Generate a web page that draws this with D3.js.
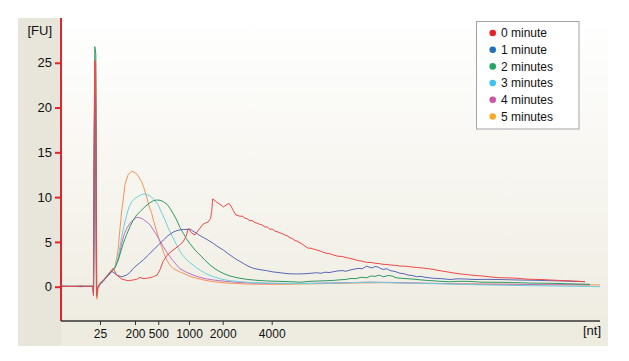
<!DOCTYPE html>
<html><head><meta charset="utf-8">
<script src="https://cdn.jsdelivr.net/npm/d3@7"></script>
<style>
html,body{margin:0;padding:0;background:#fff;}
svg{display:block;font-family:"Liberation Sans",Arial,Helvetica,sans-serif;}
</style></head>
<body>
<svg id="chart" width="629" height="361"></svg>
<script>
// Migration time (s) -> fluorescence units (FU)
const seriesNames = ["0 minute","1 minute","2 minutes","3 minutes","4 minutes","5 minutes"];
const ladderTimes = [22.9, 26.4, 28.73, 31.8, 35.17, 40.07];
const ladderLabels = ["25","200","500","1000","2000","4000"];
const yTicks = [0,5,10,15,20,25];

const min0 = [[19.0,0.05],[20.0,0.02],[21.0,0.08],[21.9,0.03],[22.2,0.05],[22.25,-1.0],[22.36,25.3],[22.46,25.0],[22.55,-1.1],[22.65,-0.2],[22.9,0.4],[23.2,0.7],[23.5,1.1],[23.8,1.5],[24.23,2.05],[24.57,1.3],[25.07,0.86],[25.4,0.75],[25.73,0.67],[26.2,0.75],[26.57,0.82],[26.9,1.05],[27.2,0.9],[27.57,0.94],[27.9,1.0],[28.23,1.12],[28.6,1.3],[28.9,1.9],[29.2,2.8],[29.6,3.5],[30.1,4.0],[30.7,4.5],[31.2,5.0],[31.5,5.6],[31.73,6.5],[32.05,6.0],[32.4,5.77],[32.73,6.3],[33.23,7.0],[33.73,7.25],[33.95,7.6],[34.07,8.4],[34.17,9.8],[34.4,9.6],[34.6,9.4],[34.9,9.2],[35.23,8.9],[35.5,9.1],[35.8,9.3],[36.0,9.0],[36.23,8.5],[36.5,8.0],[36.7,7.95],[36.9,7.85],[37.1,7.9],[37.4,7.65],[37.6,7.6],[37.9,7.35],[38.1,7.4],[38.4,7.15],[38.6,7.1],[38.9,6.95],[39.1,6.9],[39.4,6.65],[39.6,6.7],[39.9,6.4],[40.1,6.45],[40.4,6.2],[40.6,6.15],[40.9,6.0],[41.1,5.95],[41.4,5.75],[41.6,5.7],[41.9,5.45],[42.1,5.4],[42.4,5.15],[42.6,5.1],[42.9,4.9],[43.2,4.7],[43.5,4.45],[43.7,4.3],[44.0,4.3],[44.3,4.18],[44.57,4.1],[44.9,4.0],[45.2,3.85],[45.57,3.72],[45.9,3.68],[46.3,3.52],[46.7,3.4],[47.1,3.38],[47.5,3.25],[47.9,3.17],[48.3,3.05],[48.7,2.92],[49.1,2.85],[49.57,2.72],[50.0,2.7],[50.4,2.62],[50.8,2.58],[51.2,2.5],[51.6,2.48],[52.1,2.4],[52.5,2.38],[52.9,2.3],[53.3,2.3],[53.7,2.25],[54.1,2.2],[54.57,2.15],[55.0,2.1],[55.4,2.05],[55.8,2.0],[56.2,1.94],[56.7,1.82],[57.1,1.75],[57.5,1.68],[57.9,1.6],[58.7,1.45],[59.6,1.35],[60.4,1.25],[61.2,1.19],[62.0,1.08],[62.9,1.0],[63.8,0.98],[64.6,0.94],[65.4,0.86],[66.2,0.82],[67.0,0.8],[67.9,0.75],[68.8,0.7],[69.6,0.67],[70.5,0.62],[71.4,0.56]];

const min1 = [[19.0,0.03],[20.0,0.05],[21.0,0.0],[21.9,0.06],[22.2,0.04],[22.25,-0.9],[22.36,21.5],[22.46,21.2],[22.55,-1.0],[22.65,-0.1],[22.9,0.3],[23.2,0.6],[23.5,1.0],[23.8,1.35],[24.1,1.7],[24.3,1.55],[24.57,1.3],[25.07,1.1],[25.57,1.3],[25.9,1.6],[26.23,2.05],[26.7,2.5],[27.23,3.0],[27.7,3.5],[28.23,4.1],[28.7,4.6],[29.23,5.2],[29.7,5.7],[30.23,6.1],[30.7,6.3],[31.23,6.4],[31.6,6.38],[31.9,6.44],[32.2,6.2],[32.57,5.96],[32.9,5.7],[33.23,5.5],[33.7,5.2],[34.23,4.84],[34.7,4.45],[35.23,4.1],[35.7,3.7],[36.23,3.28],[36.7,2.95],[37.23,2.6],[37.7,2.3],[38.23,2.05],[38.9,1.9],[39.57,1.79],[40.2,1.65],[40.9,1.56],[41.7,1.45],[42.57,1.42],[43.4,1.45],[44.0,1.5],[44.57,1.56],[45.0,1.5],[45.4,1.62],[45.8,1.58],[46.23,1.67],[46.6,1.75],[47.1,1.8],[47.5,1.72],[47.9,1.86],[48.3,1.95],[48.7,2.05],[49.1,2.0],[49.57,2.3],[49.9,2.15],[50.1,2.1],[50.4,2.25],[50.7,2.2],[51.0,2.0],[51.23,1.94],[51.6,2.0],[51.9,1.8],[52.4,1.7],[52.9,1.5],[53.3,1.45],[53.7,1.3],[54.1,1.25],[54.57,1.12],[55.0,1.15],[55.4,1.05],[56.23,0.94],[57.0,0.9],[57.9,0.8],[58.7,0.88],[59.6,0.85],[60.4,0.8],[61.2,0.82],[62.9,0.8],[64.6,0.75],[66.2,0.72],[67.9,0.67],[69.6,0.62],[71.4,0.56]];

const min2 = [[19.0,0.04],[20.0,0.02],[21.0,0.06],[21.9,0.02],[22.2,0.05],[22.25,-0.8],[22.38,26.8],[22.48,26.0],[22.56,-1.0],[22.66,-0.1],[22.9,0.3],[23.2,0.6],[23.5,1.0],[23.8,1.4],[24.1,1.8],[24.4,2.1],[24.73,3.0],[25.0,4.0],[25.23,4.84],[25.55,5.8],[25.9,6.7],[26.2,7.4],[26.57,8.0],[27.0,8.5],[27.4,8.93],[27.8,9.3],[28.23,9.6],[28.57,9.68],[28.9,9.65],[29.23,9.5],[29.6,9.2],[29.9,8.75],[30.2,8.2],[30.57,7.44],[30.9,6.6],[31.23,5.96],[31.55,5.35],[31.9,4.8],[32.4,4.1],[32.9,3.54],[33.4,2.95],[33.9,2.42],[34.4,2.0],[34.9,1.67],[35.4,1.4],[35.9,1.19],[36.7,0.98],[37.57,0.82],[38.5,0.72],[39.57,0.64],[40.7,0.6],[41.9,0.56],[42.9,0.5],[43.9,0.6],[45.1,0.65],[46.23,0.7],[47.0,0.78],[47.4,0.8],[48.0,0.92],[48.5,0.9],[49.0,1.05],[49.57,1.0],[50.0,1.2],[50.4,1.15],[50.8,1.3],[51.23,1.1],[51.7,1.25],[52.1,1.2],[52.5,1.0],[52.9,0.95],[53.5,0.9],[54.2,0.85],[54.8,0.78],[55.57,0.7],[56.2,0.66],[56.9,0.6],[57.9,0.55],[58.7,0.6],[59.6,0.6],[61.2,0.5],[62.9,0.49],[64.6,0.45],[66.2,0.4],[67.9,0.38],[69.6,0.33],[71.9,0.27]];

const min3 = [[19.0,0.05],[20.0,0.03],[21.0,0.05],[21.9,0.04],[22.2,0.05],[22.25,-0.9],[22.37,24.0],[22.47,23.5],[22.55,-1.0],[22.65,-0.2],[22.9,0.3],[23.2,0.6],[23.5,1.0],[23.8,1.4],[24.1,1.8],[24.4,2.2],[24.73,3.35],[25.07,5.58],[25.3,6.8],[25.57,8.0],[25.8,8.9],[26.07,9.5],[26.4,9.85],[26.73,10.1],[27.05,10.3],[27.4,10.35],[27.7,10.25],[28.07,10.0],[28.4,9.6],[28.73,9.1],[29.05,8.3],[29.4,7.44],[29.7,6.6],[30.07,5.77],[30.4,5.0],[30.73,4.28],[31.1,3.6],[31.57,3.0],[32.0,2.6],[32.57,2.1],[32.9,1.86],[33.5,1.45],[34.23,1.12],[35.0,0.85],[35.9,0.67],[37.0,0.55],[38.23,0.45],[39.5,0.4],[40.9,0.38],[42.4,0.36],[43.9,0.35],[45.9,0.38],[47.9,0.45],[49.9,0.5],[51.9,0.45],[53.9,0.4],[55.9,0.35],[57.9,0.3],[60.9,0.2],[63.9,0.15],[66.9,0.1],[69.9,0.05],[72.9,0.0]];

const min4 = [[19.0,0.06],[20.0,0.04],[21.0,0.02],[21.9,0.05],[22.2,0.03],[22.25,-0.9],[22.36,21.0],[22.46,20.5],[22.55,-1.1],[22.65,-0.2],[22.9,0.3],[23.2,0.6],[23.5,1.0],[23.8,1.4],[24.1,1.8],[24.4,2.2],[24.73,3.0],[25.07,4.84],[25.3,5.8],[25.57,6.5],[25.9,7.1],[26.23,7.44],[26.5,7.7],[26.73,7.74],[27.0,7.65],[27.23,7.52],[27.6,7.2],[27.9,6.9],[28.2,6.4],[28.57,5.77],[28.9,5.1],[29.23,4.46],[29.55,3.9],[29.9,3.35],[30.2,2.9],[30.57,2.42],[30.9,2.0],[31.57,1.6],[32.57,1.15],[33.4,0.9],[34.23,0.75],[35.4,0.6],[36.57,0.49],[37.9,0.42],[39.2,0.38],[40.9,0.35],[42.9,0.35],[44.9,0.4],[47.4,0.45],[49.9,0.5],[51.9,0.48],[53.9,0.42],[55.9,0.38],[58.9,0.3],[61.9,0.28],[64.9,0.25],[67.9,0.22],[71.9,0.2]];

const min5 = [[19.0,0.03],[20.0,0.06],[21.0,0.04],[21.9,0.02],[22.2,0.05],[22.25,-0.8],[22.36,24.6],[22.46,24.2],[22.6,-1.4],[22.7,-0.3],[22.9,0.3],[23.2,0.6],[23.5,1.0],[23.8,1.4],[24.1,1.9],[24.4,2.2],[24.7,4.0],[24.9,6.5],[25.07,8.5],[25.25,10.0],[25.4,11.4],[25.7,12.5],[26.07,12.9],[26.3,12.8],[26.57,12.6],[26.8,12.2],[27.07,11.7],[27.3,11.0],[27.57,10.0],[27.8,9.0],[28.07,8.2],[28.3,7.2],[28.57,6.2],[28.8,5.3],[29.07,4.46],[29.3,3.7],[29.57,3.0],[29.9,2.4],[30.2,2.05],[30.7,1.75],[31.2,1.5],[31.9,1.15],[32.57,0.94],[33.4,0.72],[34.23,0.56],[35.4,0.42],[37.57,0.3],[39.4,0.27],[40.9,0.27],[42.9,0.3],[45.9,0.35],[48.9,0.42],[51.9,0.45],[54.9,0.38],[57.9,0.33],[60.9,0.3],[63.9,0.27],[66.9,0.24],[69.9,0.22],[72.9,0.19]];

const seriesData = [min0, min1, min2, min3, min4, min5];
const lineColors = ["#ef4a4a","#5a67b8","#2f9a62","#6fd0dc","#c070c0","#f8925a"];
const dotColors  = ["#e3232b","#1f72b8","#27a464","#3ec3ee","#cc55a5","#f7ab2e"];

const svg = d3.select("#chart");
const M = {left: 61, right: 600, top: 18, bottom: 321};

// background
const defs = svg.append("defs");
const grad = defs.append("linearGradient").attr("id","bg").attr("x1",0).attr("y1",0).attr("x2",0).attr("y2",1);
grad.append("stop").attr("offset","0%").attr("stop-color","#ffffff");
grad.append("stop").attr("offset","100%").attr("stop-color","#efede2");
svg.append("rect").attr("x",18).attr("y",18).attr("width",590).attr("height",328).attr("fill","#eeece1");
svg.append("rect").attr("x",18).attr("y",18).attr("width",43).attr("height",328).attr("fill","#e8e6db");
svg.append("rect").attr("x",61).attr("y",18).attr("width",547).attr("height",303).attr("fill","url(#bg)");

const x = d3.scaleLinear().domain([19, 72.9]).range([M.left, M.right]);
const y = d3.scaleLinear().domain([-3.83, 30]).range([M.bottom, M.top]);

const line = d3.line().x(d => x(d[0])).y(d => y(d[1]));
const order = [5,4,3,2,1,0];
svg.append("g").selectAll("path").data(order).join("path")
  .attr("d", i => line(seriesData[i]))
  .attr("fill","none")
  .attr("stroke", i => lineColors[i])
  .attr("stroke-width", 1)
  .attr("stroke-linejoin","round");

// y axis (red)
const yAxis = d3.axisLeft(y).tickValues(yTicks).tickSize(6).tickPadding(3).tickFormat(d3.format("d"));
const gy = svg.append("g").attr("transform",`translate(${M.left},0)`).call(yAxis);
gy.select(".domain").remove();
gy.selectAll(".tick line").attr("stroke","#e3232b").attr("stroke-width",2);
gy.selectAll(".tick text").attr("font-size",13).attr("fill","#111").attr("font-family","Liberation Sans, Arial, sans-serif");
svg.append("line").attr("x1",M.left).attr("x2",M.left).attr("y1",M.top).attr("y2",M.bottom)
  .attr("stroke","#e3232b").attr("stroke-width",2);

// x axis
const xAxis = d3.axisBottom(x).tickValues(ladderTimes).tickSize(4).tickPadding(4)
  .tickFormat((d,i) => ladderLabels[i]);
const gx = svg.append("g").attr("transform",`translate(0,${M.bottom})`).call(xAxis);
gx.select(".domain").remove();
gx.selectAll(".tick line").attr("stroke","#333").attr("stroke-width",1);
gx.selectAll(".tick text").attr("font-size",12).attr("fill","#111").attr("font-family","Liberation Sans, Arial, sans-serif");
svg.append("line").attr("x1",M.left).attr("x2",M.right).attr("y1",M.bottom).attr("y2",M.bottom)
  .attr("stroke","#333").attr("stroke-width",1.6);

// axis unit labels
svg.append("text").attr("x",52).attr("y",35).attr("text-anchor","end").attr("font-size",13).attr("fill","#111").text("[FU]");
svg.append("text").attr("x",601).attr("y",335).attr("text-anchor","end").attr("font-size",13).attr("fill","#111").text("[nt]");

// legend
const lg = svg.append("g");
lg.append("rect").attr("x",476.5).attr("y",21.5).attr("width",102.5).attr("height",107.5)
  .attr("fill","#fff").attr("stroke","#a3a3a3").attr("stroke-width",1);
const rows = lg.selectAll("g.row").data(seriesNames).join("g").attr("class","row")
  .attr("transform",(d,i)=>`translate(0,${33 + i*16.7})`);
rows.append("circle").attr("cx",492.7).attr("cy",0).attr("r",3.3).attr("fill",(d,i)=>dotColors[i]);
rows.append("text").attr("x",501).attr("y",0).attr("dy","0.36em").attr("font-size",12).attr("fill","#111").text(d=>d);
</script>
</body></html>
